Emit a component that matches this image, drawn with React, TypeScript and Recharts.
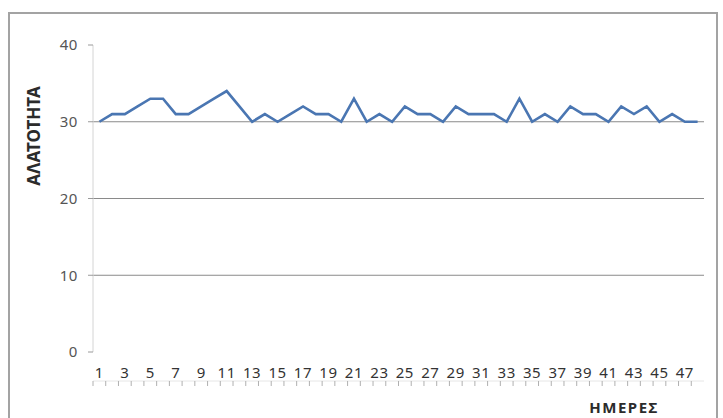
import React from 'react';
import { LineChart, Line, XAxis, YAxis, CartesianGrid } from 'recharts';

const days: number[] = [
  1, 2, 3, 4, 5, 6, 7, 8, 9, 10, 11, 12, 13, 14, 15, 16, 17, 18, 19, 20, 21, 22, 23, 24,
  25, 26, 27, 28, 29, 30, 31, 32, 33, 34, 35, 36, 37, 38, 39, 40, 41, 42, 43, 44, 45, 46, 47, 48,
];

const salinity: number[] = [
  30, 31, 31, 32, 33, 33, 31, 31, 32, 33, 34, 32, 30, 31, 30, 31, 32, 31, 31, 30, 33, 30, 31, 30,
  32, 31, 31, 30, 32, 31, 31, 31, 30, 33, 30, 31, 30, 32, 31, 31, 30, 32, 31, 32, 30, 31, 30, 30,
];

const yTicks = [0, 10, 20, 30, 40];
const gridValues = [10, 20, 30];
// category boundaries, where the excel-style tick marks sit
const boundaryTicks = [
  0, 1, 2, 3, 4, 5, 6, 7, 8, 9, 10, 11, 12, 13, 14, 15, 16, 17, 18, 19, 20, 21, 22, 23, 24,
  25, 26, 27, 28, 29, 30, 31, 32, 33, 34, 35, 36, 37, 38, 39, 40, 41, 42, 43, 44, 45, 46, 47,
];

const yTitle = 'ΑΛΑΤΟΤΗΤΑ';
const xTitle = 'ΗΜΕΡΕΣ';

const FONT = '"Noto Sans", "Open Sans", sans-serif';

const data = days.map((d, i) => ({ day: d, value: salinity[i], pos: i + 0.5 }));

const NoLabel = () => <g />;

export default function App() {
  return (
    <div style={{ position: 'absolute', left: 0, top: 0, width: 723, height: 418, overflow: 'hidden', background: '#fff' }}>
      <div
        style={{
          position: 'absolute',
          left: 8,
          top: 12,
          width: 710,
          height: 420,
          border: '2px solid #a3a3a3',
          boxSizing: 'border-box',
        }}
      />
      <div style={{ position: 'absolute', left: 0, top: 0 }}>
        <LineChart
          width={723}
          height={418}
          data={data}
          margin={{ top: 45, right: 19, bottom: 36, left: 0 }}
        >
          <CartesianGrid
            horizontal
            vertical={false}
            horizontalValues={gridValues}
            stroke="#8a8a8a"
            strokeWidth={1}
          />
          <XAxis
            xAxisId="marks"
            type="number"
            dataKey="pos"
            domain={[0, 48]}
            ticks={boundaryTicks}
            interval={0}
            height={1}
            tick={NoLabel}
            tickSize={5}
            tickLine={{ stroke: '#b0b0b0' }}
            axisLine={{ stroke: '#e6e6e6' }}
          />
          <XAxis
            dataKey="day"
            interval={1}
            height={29}
            padding={{ left: 6.4, right: 6.4 }}
            tickLine={false}
            axisLine={false}
            tickSize={5}
            tickMargin={10}
            tick={{ fontSize: 15, fill: '#333', fontFamily: FONT, letterSpacing: 0.6 }}
            label={{
              content: () => (
                <text
                  x={624}
                  y={413}
                  textAnchor="middle"
                  fontSize={15}
                  fontWeight="bold"
                  fill="#2b2b2b"
                  fontFamily={FONT}
                  letterSpacing={1.5}
                >
                  {xTitle}
                </text>
              ),
            }}
          />
          <YAxis
            domain={[0, 40]}
            ticks={yTicks}
            width={93}
            tickSize={5}
            tickMargin={10}
            tickLine={{ stroke: '#9a9a9a' }}
            axisLine={{ stroke: '#d4d4d4' }}
            tick={{ fontSize: 15, fill: '#555', fontFamily: FONT, letterSpacing: 0.6 }}
            label={{
              content: () => (
                <text
                  x={40}
                  y={136}
                  transform="rotate(-90, 40, 136)"
                  textAnchor="middle"
                  fontSize={17}
                  fontWeight="bold"
                  fill="#2b2b2b"
                  fontFamily={FONT}
                >
                  {yTitle}
                </text>
              ),
            }}
          />
          <Line
            type="linear"
            dataKey="value"
            stroke="#4a76b2"
            strokeWidth={2.6}
            dot={false}
            isAnimationActive={false}
          />
        </LineChart>
      </div>
    </div>
  );
}
